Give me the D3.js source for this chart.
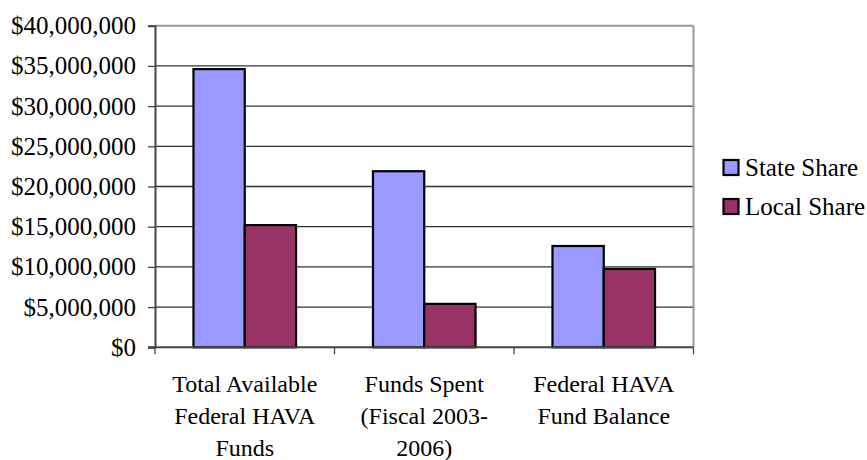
<!DOCTYPE html>
<html><head><meta charset="utf-8">
<script src="https://cdn.jsdelivr.net/npm/d3@7"></script>
<style>body{margin:0;background:#fff}svg{display:block}</style>
</head><body><svg id="c" width="867" height="460"></svg>
<script>
const categories = [["Total Available","Federal HAVA","Funds"],["Funds Spent","(Fiscal 2003-","2006)"],["Federal HAVA","Fund Balance"]];
const seriesNames = ["State Share","Local Share"];
const stateShare = [34600000, 21900000, 12600000];
const localShare = [15200000, 5400000, 9750000];
const yTicks = [0,5000000,10000000,15000000,20000000,25000000,30000000,35000000,40000000];
const colors = ["#9999FF","#993366"];

const FONT = "'Liberation Serif', 'Times New Roman', Times, serif";
const svg = d3.select("#c");
const L=155, R=693.5, T=25.7, B=347.3;
const x0 = d3.scaleBand().domain(d3.range(categories.length)).range([L,R]).paddingInner(0).paddingOuter(0);
const x1 = d3.scaleBand().domain(d3.range(2)).range([x0.bandwidth()*0.75/3.5, x0.bandwidth()*2.75/3.5]);
const y = d3.scaleLinear().domain([0,40000000]).range([B,T]);
const fmt = v => "$" + d3.format(",")(v);

// gridlines
svg.append("g").selectAll("line").data(yTicks.filter(v=>v>0 && v<40000000)).join("line")
  .attr("x1",L).attr("x2",R).attr("y1",d=>y(d)).attr("y2",d=>y(d))
  .attr("stroke","#333").attr("stroke-width",1.3);
svg.append("line").attr("x1",L).attr("x2",R).attr("y1",y(40000000)).attr("y2",y(40000000)).attr("stroke","#999").attr("stroke-width",2);
svg.append("line").attr("x1",R).attr("x2",R).attr("y1",T).attr("y2",B).attr("stroke","#999").attr("stroke-width",2);

// bars
const data = [stateShare, localShare];
categories.forEach((c,i)=>{
  data.forEach((s,j)=>{
    svg.append("rect")
      .attr("x", x0(i)+x1(j)).attr("width", x1.bandwidth())
      .attr("y", y(s[i])).attr("height", B - y(s[i]))
      .attr("fill", colors[j]).attr("stroke","#000").attr("stroke-width",2.2);
  });
});

// y axis
const ya = d3.axisLeft(y).tickValues(yTicks).tickFormat(fmt).tickSize(7).tickPadding(12);
const gy = svg.append("g").attr("transform",`translate(${L},0)`).call(ya);
gy.attr("font-family",null);
gy.select(".domain").attr("stroke","#444").attr("stroke-width",2);
gy.selectAll(".tick line").attr("stroke","#444").attr("stroke-width",1.3);
gy.selectAll("text").style("font-family",FONT).style("font-size","25px").attr("fill","#000");

// x axis
const gx = svg.append("g").attr("transform",`translate(0,${B})`);
gx.append("line").attr("x1",L-7).attr("x2",R).attr("y1",0).attr("y2",0).attr("stroke","#444").attr("stroke-width",2);
const bounds = d3.range(categories.length+1).map(i => i<categories.length ? x0(i) : R);
gx.selectAll("line.t").data(bounds).join("line").attr("class","t")
  .attr("x1",d=>d).attr("x2",d=>d).attr("y1",0).attr("y2",7).attr("stroke","#444").attr("stroke-width",1.3);
categories.forEach((lines,i)=>{
  const t = svg.append("text").attr("text-anchor","middle").style("font-family",FONT).style("font-size","24px").attr("fill","#000");
  lines.forEach((ln,k)=>{
    t.append("tspan").attr("x", x0(i)+x0.bandwidth()/2).attr("y", 392 + k*32).text(ln);
  });
});

// legend
seriesNames.forEach((n,j)=>{
  const cy = 167.5 + j*39;
  svg.append("rect").attr("x",723.5).attr("y",cy-7.5).attr("width",15).attr("height",15)
    .attr("fill",colors[j]).attr("stroke","#000").attr("stroke-width",2.2);
  svg.append("text").attr("x",745).attr("y",cy+8.5).style("font-family",FONT).style("font-size","25px").attr("fill","#000").text(n);
});
</script></body></html>
